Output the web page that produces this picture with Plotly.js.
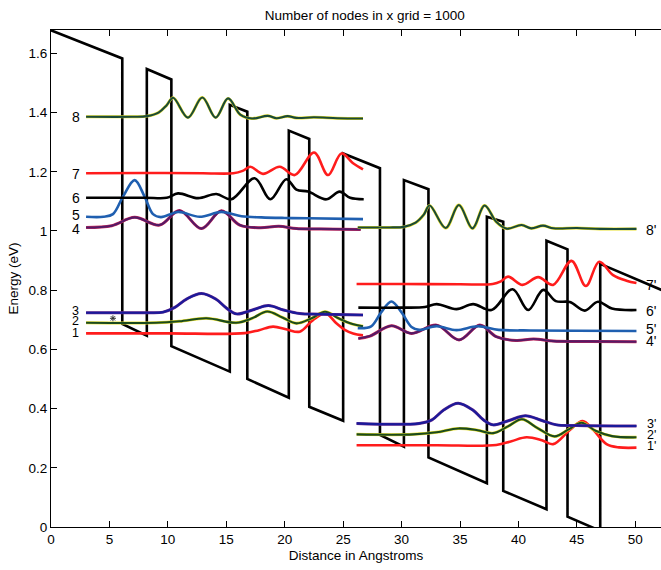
<!DOCTYPE html>
<html>
<head>
<meta charset="utf-8">
<script src="https://cdn.plot.ly/plotly-3.0.1.min.js"></script>
<style>html,body{margin:0;padding:0;background:#fff;}#chart{width:661px;height:570px;}</style>
</head>
<body>
<div id="chart"></div>
<script>
// Conduction band profile (vertices)
const potX = [0, 6.1, 6.1, 8.2, 8.2, 10.3, 10.3, 15.3, 15.3, 16.8, 16.8, 20.35, 20.35, 22.1, 22.1, 25.0, 25.0, 28.15, 28.15, 30.2, 30.2, 32.3, 32.3, 37.3, 37.3, 38.7, 38.7, 42.4, 42.4, 44.2, 44.2, 47.0, 47.0, 53.0];
const potE = [1.678, 1.583, 0.686, 0.646, 1.547, 1.512, 0.611, 0.525, 1.426, 1.403, 0.500, 0.437, 1.339, 1.311, 0.406, 0.359, 1.262, 1.212, 0.311, 0.271, 1.172, 1.141, 0.235, 0.148, 1.048, 1.031, 0.122, 0.060, 0.967, 0.938, 0.035, -0.013, 0.889, 0.788];

// Left period states 1..8
const s8x = [3.0, 7.0, 8.2, 9.2, 9.9, 10.45, 11.72, 12.95, 14.09, 15.15, 16.2, 17.2, 18.55, 19.3, 20.25, 21.0, 22.5, 24.5, 26.7];
const s8y = [1.386, 1.386, 1.388, 1.400, 1.425, 1.450, 1.383, 1.451, 1.383, 1.448, 1.393, 1.380, 1.389, 1.381, 1.388, 1.382, 1.384, 1.381, 1.380];
const s7x = [3.0, 8.0, 13.0, 15.6, 16.4, 17.06, 18.14, 19.57, 20.86, 22.51, 23.71, 24.85, 25.85, 26.7];
const s7y = [1.195, 1.196, 1.195, 1.195, 1.203, 1.217, 1.193, 1.217, 1.189, 1.265, 1.189, 1.262, 1.229, 1.208];
const s6x = [3.0, 8.0, 9.9, 10.87, 12.58, 14.15, 15.43, 17.43, 18.77, 20.14, 21.0, 22.0, 23.57, 24.7, 25.6, 26.76];
const s6y = [1.1125, 1.1125, 1.112, 1.127, 1.111, 1.125, 1.107, 1.178, 1.107, 1.175, 1.140, 1.133, 1.107, 1.133, 1.112, 1.107];
const s5x = [3.0, 4.5, 5.3, 6.16, 7.16, 8.01, 8.73, 9.4, 10.9, 12.72, 14.58, 16.3, 18.0, 20.0, 22.0, 26.7];
const s5y = [1.048, 1.048, 1.057, 1.116, 1.172, 1.116, 1.057, 1.047, 1.064, 1.048, 1.064, 1.050, 1.046, 1.044, 1.043, 1.040];
const s4x = [3.0, 5.2, 7.16, 9.3, 11.0, 12.87, 14.58, 16.15, 17.9, 19.5, 21.0, 23.0, 26.5];
const s4y = [1.012, 1.018, 1.046, 1.020, 1.069, 1.008, 1.068, 1.020, 1.011, 1.016, 1.008, 1.007, 1.005];
const s3x = [3.0, 8.0, 9.6, 10.6, 11.6, 12.87, 14.1, 15.0, 15.86, 17.3, 18.6, 19.9, 21.28, 23.0, 26.7];
const s3y = [0.724, 0.724, 0.726, 0.742, 0.770, 0.789, 0.770, 0.740, 0.720, 0.734, 0.748, 0.733, 0.721, 0.719, 0.716];
const s2x = [3.0, 9.0, 11.0, 13.3, 15.86, 17.2, 18.5, 19.8, 21.0, 22.3, 23.45, 24.6, 25.6, 26.7];
const s2y = [0.690, 0.690, 0.695, 0.705, 0.690, 0.705, 0.728, 0.708, 0.688, 0.705, 0.727, 0.705, 0.688, 0.678];
const s1x = [3.0, 10.0, 16.6, 17.8, 19.0, 20.2, 21.28, 22.42, 23.5, 24.42, 25.14, 25.85, 26.7];
const s1y = [0.654, 0.654, 0.655, 0.665, 0.677, 0.667, 0.660, 0.699, 0.721, 0.688, 0.666, 0.654, 0.648];

// Right period states 1'..8'
const p8x = [26.25, 29.0, 30.2, 31.2, 31.9, 32.4, 33.78, 34.9, 36.07, 37.1, 38.1, 38.98, 40.27, 41.1, 42.1, 43.0, 45.0, 47.0, 50.1];
const p8y = [1.012, 1.012, 1.014, 1.028, 1.055, 1.086, 1.010, 1.088, 1.009, 1.086, 1.031, 1.008, 1.020, 1.009, 1.018, 1.009, 1.010, 1.007, 1.007];
const p7x = [26.15, 30.0, 35.0, 37.8, 38.5, 39.12, 40.35, 41.69, 42.97, 44.54, 45.77, 46.91, 48.1, 49.25, 50.1];
const p7y = [0.821, 0.821, 0.820, 0.821, 0.830, 0.846, 0.818, 0.844, 0.818, 0.899, 0.814, 0.896, 0.851, 0.832, 0.824];
const p6x = [26.3, 30.0, 32.0, 33.0, 34.7, 36.12, 37.7, 39.5, 40.83, 42.12, 43.2, 44.4, 45.68, 46.8, 48.0, 50.1];
const p6y = [0.741, 0.741, 0.743, 0.753, 0.736, 0.753, 0.733, 0.803, 0.733, 0.801, 0.763, 0.760, 0.731, 0.761, 0.738, 0.733];
const p5x = [26.25, 27.4, 28.25, 29.13, 30.0, 30.85, 31.5, 33.0, 34.7, 36.5, 38.3, 41.0, 45.0, 50.1];
const p5y = [0.672, 0.678, 0.725, 0.762, 0.725, 0.676, 0.666, 0.678, 0.665, 0.678, 0.666, 0.664, 0.663, 0.662];
const p4x = [26.3, 27.3, 29.13, 30.85, 33.0, 34.92, 36.7, 38.1, 39.8, 41.3, 43.0, 46.0, 50.1];
const p4y = [0.637, 0.645, 0.680, 0.654, 0.682, 0.632, 0.682, 0.643, 0.630, 0.635, 0.628, 0.627, 0.626];
const p3x = [26.15, 31.5, 32.6, 33.6, 34.84, 36.1, 37.0, 37.83, 39.2, 40.6, 42.0, 43.26, 45.0, 50.1];
const p3y = [0.350, 0.350, 0.362, 0.395, 0.418, 0.395, 0.362, 0.345, 0.360, 0.376, 0.360, 0.345, 0.343, 0.341];
const p2x = [26.15, 31.0, 33.0, 34.84, 36.5, 37.83, 39.1, 40.3, 41.6, 43.1, 44.3, 45.4, 46.6, 48.0, 50.1];
const p2y = [0.313, 0.313, 0.320, 0.333, 0.327, 0.317, 0.340, 0.364, 0.335, 0.306, 0.330, 0.352, 0.325, 0.307, 0.303];
const p1x = [26.15, 33.0, 38.1, 39.4, 40.7, 42.0, 42.97, 44.4, 45.5, 46.4, 47.54, 48.6, 50.1];
const p1y = [0.276, 0.276, 0.277, 0.290, 0.303, 0.293, 0.280, 0.328, 0.358, 0.328, 0.280, 0.269, 0.268];

// Level labels
const leftLabels = ['8', '7', '6', '5', '4', '3', '2', '1'];
const leftLabelE = [1.385, 1.193, 1.111, 1.053, 1.008, 0.731, 0.695, 0.657];
const rightLabels = ["8'", "7'", "6'", "5'", "4'", "3'", "2'", "1'"];
const rightLabelE = [1.004, 0.816, 0.731, 0.670, 0.627, 0.347, 0.311, 0.273];
const labelSize = [14, 14, 14, 14, 14, 12.5, 12.5, 12.5];

// small marker
const markX = [5.3];
const markY = [0.705];

const RED = '#ff1c1c';
const states = [
  {x: s1x, y: s1y, c: RED}, {x: s2x, y: s2y, u: '#e8df2a', c: '#1a4a1e'},
  {x: s3x, y: s3y, u: '#6a2a8c', c: '#1a1a9a'}, {x: s4x, y: s4y, u: '#c8285a', c: '#541a66'},
  {x: s5x, y: s5y, c: '#1f5fb0'}, {x: s6x, y: s6y, c: '#000000'},
  {x: s7x, y: s7y, c: RED}, {x: s8x, y: s8y, u: '#e8df2a', c: '#1a4a38'},
  {x: p1x, y: p1y, c: RED}, {x: p2x, y: p2y, u: '#e8df2a', c: '#1a4a1e'},
  {x: p3x, y: p3y, u: '#6a2a8c', c: '#1a1a9a'}, {x: p4x, y: p4y, u: '#c8285a', c: '#541a66'},
  {x: p5x, y: p5y, c: '#1f5fb0'}, {x: p6x, y: p6y, c: '#000000'},
  {x: p7x, y: p7y, c: RED}, {x: p8x, y: p8y, u: '#e8df2a', c: '#1a4a38'}
];

const traces = [{
  x: potX, y: potE, mode: 'lines', type: 'scatter',
  line: {color: '#000', width: 2.6}, hoverinfo: 'skip'
}];
states.forEach(s => {
  if (s.u) traces.push({x: s.x, y: s.y, mode: 'lines', type: 'scatter',
    line: {color: s.u, width: 3.0, shape: 'spline', smoothing: 1}, hoverinfo: 'skip'});
  traces.push({x: s.x, y: s.y, mode: 'lines', type: 'scatter',
    line: {color: s.c, width: s.u ? 2.1 : 2.6, shape: 'spline', smoothing: 1}, hoverinfo: 'skip'});
});
traces.push({x: markX, y: markY, mode: 'markers', type: 'scatter',
  marker: {symbol: 'asterisk-open', size: 5, color: '#333', line: {color: '#333', width: 1}}, hoverinfo: 'skip'});

const FONT = 'Liberation Sans, Arial, Helvetica, sans-serif';
const annotations = [];
leftLabels.forEach((t, i) => annotations.push({x: 2.1, y: leftLabelE[i], xref: 'x', yref: 'y', text: t,
  showarrow: false, font: {family: FONT, size: labelSize[i], color: '#000'}, xanchor: 'center', yanchor: 'middle'}));
rightLabels.forEach((t, i) => annotations.push({x: 51.35, y: rightLabelE[i], xref: 'x', yref: 'y', text: t,
  showarrow: false, font: {family: FONT, size: labelSize[i], color: '#000'}, xanchor: 'center', yanchor: 'middle'}));

const layout = {
  width: 661, height: 570,
  margin: {l: 51, r: 0, t: 30, b: 43, pad: 0},
  paper_bgcolor: '#fff', plot_bgcolor: '#fff',
  showlegend: false, hovermode: false,
  font: {family: FONT, size: 13.5, color: '#000'},
  title: {text: 'Number of nodes in x grid = 1000', x: 0.552, xref: 'container', xanchor: 'center',
    y: 0.974, yref: 'container', yanchor: 'middle', font: {family: FONT, size: 13.5, color: '#000'}},
  xaxis: {
    range: [0, 52.2], tick0: 0, dtick: 5, ticks: 'inside', ticklen: 6, tickwidth: 1, tickcolor: '#000',
    showline: true, linecolor: '#000', linewidth: 1, mirror: 'ticks', showgrid: false, zeroline: false,
    tickfont: {family: FONT, size: 13.5, color: '#000'},
    title: {text: 'Distance in Angstroms', standoff: 4, font: {family: FONT, size: 13.5, color: '#000'}}
  },
  yaxis: {
    range: [0, 1.679], tick0: 0, dtick: 0.2, ticks: 'inside', ticklen: 6, tickwidth: 1, tickcolor: '#000',
    showline: true, linecolor: '#000', linewidth: 1, mirror: false, showgrid: false, zeroline: false,
    tickfont: {family: FONT, size: 13.5, color: '#000'},
    title: {text: 'Energy (eV)', standoff: 6, font: {family: FONT, size: 13.5, color: '#000'}}
  },
  annotations: annotations
};

Plotly.newPlot('chart', traces, layout, {displayModeBar: false, staticPlot: true});
</script>
</body>
</html>
